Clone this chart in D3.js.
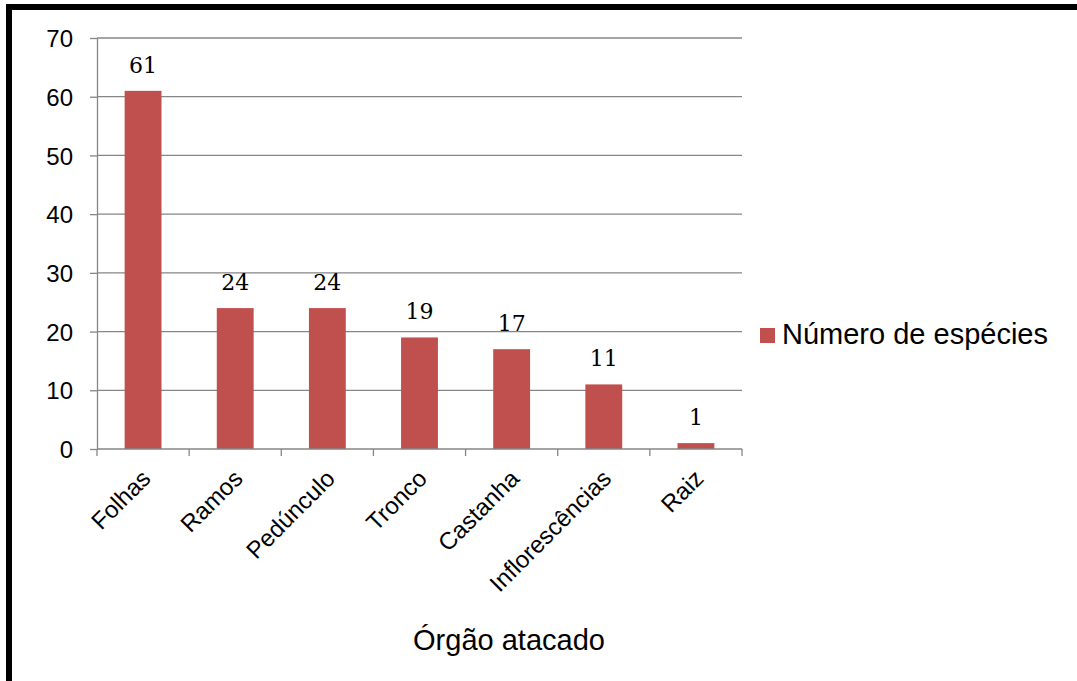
<!DOCTYPE html>
<html>
<head>
<meta charset="utf-8">
<script src="https://cdn.jsdelivr.net/npm/d3@7"></script>
<style>
  body { margin: 0; background: #fff; }
  svg { display: block; }
  .grid line { stroke: #868686; stroke-width: 1.3; }
  .axis path, .axis line { stroke: #868686; stroke-width: 1.3; }
  .axis text { font-family: "Liberation Sans", Arial, sans-serif; fill: #000; }
</style>
</head>
<body>
<svg id="chart" width="1077" height="681"></svg>
<script>
// data
const categories = ['Folhas', 'Ramos', 'Pedúnculo', 'Tronco', 'Castanha', 'Inflorescências', 'Raiz'];
const values = [61, 24, 24, 19, 17, 11, 1];
const yTicks = [0, 10, 20, 30, 40, 50, 60, 70];
const seriesName = 'Número de espécies';
const xTitle = 'Órgão atacado';

const svg = d3.select('#chart');
const barColor = '#C0504D';

// plot box
const plotLeft = 97, plotRight = 742, plotTop = 38, plotBottom = 449;

const x = d3.scaleBand()
  .domain(categories)
  .range([plotLeft, plotRight])
  .paddingInner(0.6)
  .paddingOuter(0.3);

const y = d3.scaleLinear()
  .domain([0, 70])
  .range([plotBottom, plotTop]);

// outer frame (only top and left edges show)
svg.append('rect')
  .attr('x', 9).attr('y', 7)
  .attr('width', 1200).attr('height', 800)
  .attr('fill', 'none')
  .attr('stroke', '#000')
  .attr('stroke-width', 6);

// gridlines
svg.append('g')
  .attr('class', 'grid')
  .selectAll('line')
  .data(yTicks.filter(d => d > 0))
  .enter()
  .append('line')
  .attr('x1', plotLeft).attr('x2', plotRight)
  .attr('y1', d => y(d)).attr('y2', d => y(d));

// y axis
const yAxis = svg.append('g')
  .attr('class', 'axis')
  .attr('transform', `translate(${plotLeft},0)`)
  .call(d3.axisLeft(y).tickValues(yTicks).tickSize(7).tickPadding(17).tickSizeOuter(0));
yAxis.selectAll('text').style('font-size', '24px').attr('dy', '0.36em');

// bars
svg.append('g')
  .selectAll('rect')
  .data(values)
  .enter()
  .append('rect')
  .attr('x', (d, i) => x(categories[i]))
  .attr('y', d => y(d))
  .attr('width', x.bandwidth())
  .attr('height', d => y(0) - y(d))
  .attr('fill', barColor);

// x axis: ticks at band boundaries
const step = x.step();
const boundaries = d3.range(categories.length + 1).map(i => plotLeft + i * step);
const xAxis = svg.append('g').attr('class', 'axis');
xAxis.append('line')
  .attr('x1', plotLeft).attr('x2', plotRight)
  .attr('y1', plotBottom).attr('y2', plotBottom);
xAxis.selectAll('line.tick')
  .data(boundaries)
  .enter()
  .append('line')
  .attr('class', 'tick')
  .attr('x1', d => d).attr('x2', d => d)
  .attr('y1', plotBottom).attr('y2', plotBottom + 7);

// rotated category labels
xAxis.selectAll('text')
  .data(categories)
  .enter()
  .append('text')
  .attr('transform', d => `translate(${x(d) + x.bandwidth() / 2 + 9},${plotBottom + 31}) rotate(-45)`)
  .attr('text-anchor', 'end')
  .style('font-size', '24px')
  .text(d => d);

// value labels
svg.append('g')
  .selectAll('text')
  .data(values)
  .enter()
  .append('text')
  .attr('x', (d, i) => x(categories[i]) + x.bandwidth() / 2)
  .attr('y', d => y(d) - 18)
  .attr('text-anchor', 'middle')
  .style('font-family', '"DejaVu Serif", serif')
  .style('font-size', '22px')
  .text(d => d);

// axis title
svg.append('text')
  .attr('x', 509)
  .attr('y', 650)
  .attr('text-anchor', 'middle')
  .style('font-family', '"Liberation Sans", Arial, sans-serif')
  .style('font-size', '29px')
  .text(xTitle);

// legend
const legend = svg.append('g').attr('transform', 'translate(760,328)');
legend.append('rect')
  .attr('width', 15).attr('height', 15)
  .attr('fill', barColor);
legend.append('text')
  .attr('x', 22).attr('y', 16)
  .style('font-family', '"Liberation Sans", Arial, sans-serif')
  .style('font-size', '29px')
  .text(seriesName);
</script>
</body>
</html>
